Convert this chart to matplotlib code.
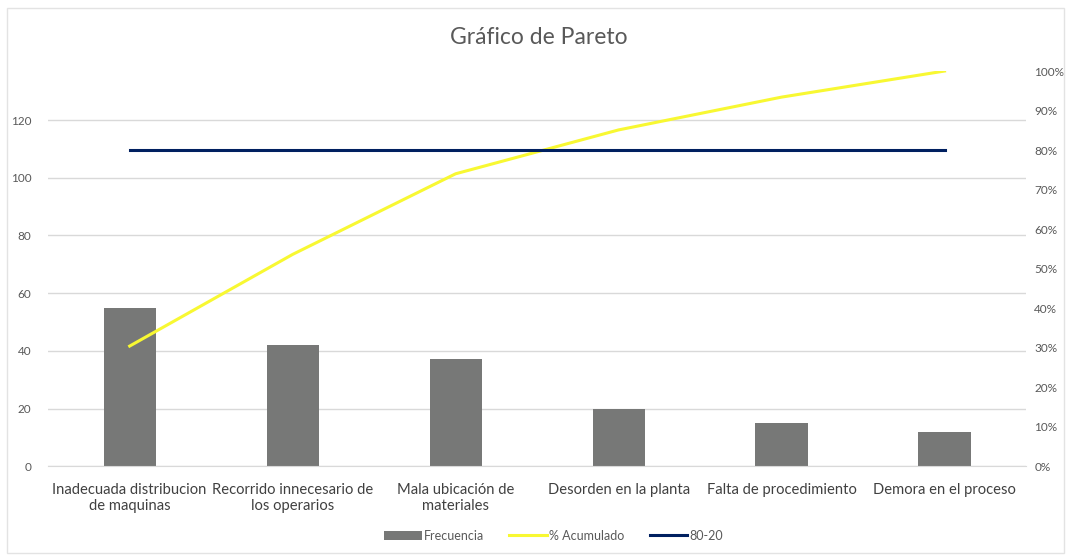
import numpy as np
import matplotlib.pyplot as plt
from matplotlib.patches import Rectangle
from matplotlib.ticker import PercentFormatter

plt.rcParams['font.family'] = ['Lato', 'DejaVu Sans']

categorias = ['Inadecuada distribucion\nde maquinas', 'Recorrido innecesario de\nlos operarios',
              'Mala ubicación de\nmateriales', 'Desorden en la planta',
              'Falta de procedimiento', 'Demora en el proceso']
frecuencia = [55, 42, 37, 20, 15, 12]
acumulado = [30.4, 53.6, 74.0, 85.1, 93.4, 100.0]
linea_80_20 = [80, 80, 80, 80, 80, 80]

gray_txt = '#595959'
fig = plt.figure(figsize=(10.71, 5.55), dpi=100)
fig.patches.append(Rectangle((7 / 1071, 2 / 555), 1057 / 1071, 545 / 555, transform=fig.transFigure,
                             fill=False, edgecolor='#e3e3e3', linewidth=1))
ax = fig.add_axes([0.045, 0.160, 0.913, 0.712])
x = np.arange(len(categorias))
ax.bar(x, frecuencia, width=0.32, color='#777877', label='Frecuencia', zorder=2)
ax.set_xlim(-0.5, len(categorias) - 0.5)
ax.set_ylim(0, 137)
ax.set_yticks(range(0, 121, 20))
ax.grid(axis='y', color='#d9d9d9', linewidth=1, zorder=0)
ax.set_axisbelow(True)
for s in ax.spines.values():
    s.set_visible(False)
ax.spines['bottom'].set_visible(True)
ax.spines['bottom'].set_color('#d9d9d9')
ax.tick_params(axis='both', length=0, colors=gray_txt)
ax.tick_params(axis='y', labelsize=8.5, pad=12)
ax.set_xticks(x)
ax.set_xticklabels(categorias, fontsize=10.6, color='#404040', linespacing=1.15)
ax.tick_params(axis='x', pad=12)

ax2 = ax.twinx()
ax2.plot(x, acumulado, color='#f8f832', linewidth=2.2, label='% Acumulado')
ax2.plot(x, linea_80_20, color='#002060', linewidth=2.2, label='80-20')
ax2.set_ylim(0, 100)
ax2.set_yticks(range(0, 101, 10))
ax2.yaxis.set_major_formatter(PercentFormatter(decimals=0))
for s in ax2.spines.values():
    s.set_visible(False)
ax2.tick_params(axis='y', length=0, colors=gray_txt, labelsize=8.5, pad=6)

fig.text(0.503, 0.932, 'Gráfico de Pareto', ha='center', va='center', fontsize=16.5, color=gray_txt)

h1, l1 = ax.get_legend_handles_labels()
h2, l2 = ax2.get_legend_handles_labels()
fig.legend(h1 + h2, l1 + l2, loc='center', bbox_to_anchor=(0.517, 0.035), ncol=3, frameon=False,
           fontsize=9, labelcolor=gray_txt, handlelength=3, columnspacing=2, handletextpad=0.2)

fig.savefig('out.png', dpi=100)
